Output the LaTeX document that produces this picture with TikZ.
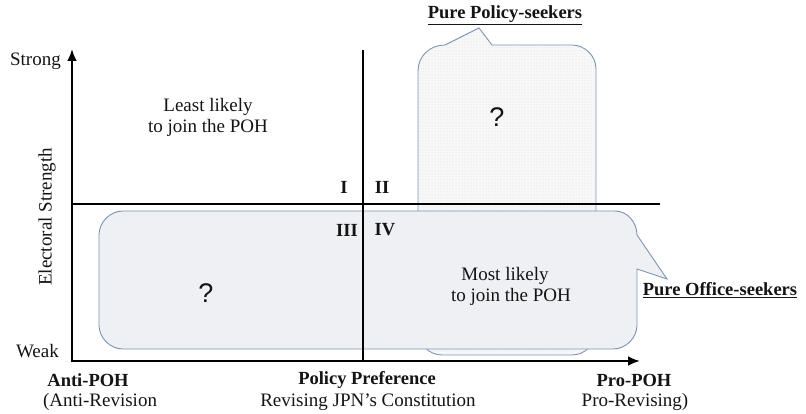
\documentclass[tikz,border=0pt]{standalone}
\usepackage{fontspec}
\setmainfont{Liberation Serif}
\setsansfont{Liberation Sans}
\usetikzlibrary{arrows.meta,patterns}
\definecolor{bubbleedge}{RGB}{125,147,184}
\definecolor{officefill}{RGB}{238,240,244}
\definecolor{policyfill}{RGB}{248,248,249}
\definecolor{ink}{RGB}{20,20,20}
\tikzset{
  txt/.style={font=\fontsize{19}{22}\selectfont, align=center, inner sep=0pt, text=ink},
  btxt/.style={txt, font=\fontsize{18.5}{22}\selectfont\bfseries},
  qmark/.style={inner sep=0pt, text=ink, font=\fontsize{27}{30}\selectfont\sffamily},
  bubble/.style={draw=bubbleedge, line width=0.9pt},
  axis/.style={line width=2.8pt, -{Latex[length=12pt,width=10pt]}},
  divider/.style={line width=1.6pt},
}
\begin{document}
\begin{tikzpicture}[x=1pt,y=-1pt]
\useasboundingbox (0,0) rectangle (806,414);
% policy-seekers bubble
\def\policypath{(445,45) -- (479,28) -- (492,45) -- (572,45)
  .. controls (585,45) and (596,56) .. (596,69) -- (596,331)
  .. controls (596,344) and (585,355) .. (572,355) -- (442,355)
  .. controls (429,355) and (418,344) .. (418,331) -- (418,71)
  .. controls (418,56) and (430,45) .. (445,45) -- cycle}
\path[bubble, fill=policyfill] \policypath;
\path[pattern=dots, pattern color=gray!32] \policypath;
% office-seekers bubble
\path[bubble, fill=officefill] (123,211) -- (615,211)
  .. controls (627,211) and (637,222) .. (637,235) -- (667,279) -- (637,269)
  -- (637,325) .. controls (637,338) and (626,349) .. (613,349) -- (123,349)
  .. controls (110,349) and (99,338) .. (99,325) -- (99,235)
  .. controls (99,222) and (110,211) .. (123,211) -- cycle;
% divider lines
\coordinate (hl) at (72,204);
\coordinate (hr) at (660,204);
\coordinate (vt) at (363,50);
\coordinate (vb) at (363,361);
\draw[divider] (hl) -- (hr);
\draw[divider] (vt) -- (vb);
% axes
\coordinate (o) at (72,361);
\coordinate (ytip) at (72,49);
\coordinate (xtip) at (640,361);
\draw[axis] ([yshift=1.4pt]o) -- (ytip);
\draw[axis] ([xshift=-1.4pt]o) -- (xtip);
% texts
\node[txt, anchor=east] (strong) at (61,61) {Strong};
\node[txt, anchor=east] (weak) at (59,351) {Weak};
\node[txt, rotate=90] (es) at (47,217) {Electoral Strength};
\node[txt] (least1) at (208,107) {Least likely};
\node[txt] (least2) at (208,128) {to join the POH};
\node[btxt] (q1) at (344,187) {I};
\node[btxt] (q2) at (382,187) {II};
\node[btxt] (q3) at (347,230) {III};
\node[btxt] (q4) at (385,230) {IV};
\node[qmark] (qa) at (206,293) {?};
\node[qmark] (qb) at (497,117) {?};
\node[txt] (most1) at (505,276) {Most likely};
\node[txt] (most2) at (511,297) {to join the POH};
\node[btxt] (office) at (720,290) {\underline{Pure Office-seekers}};
\node[btxt] (policy) at (505,15) {\underline{Pure Policy-seekers}};
\node[btxt] (anti1) at (88,380) {Anti-POH};
\node[txt] (anti2) at (100,402) {(Anti-Revision};
\node[btxt] (pref1) at (367,380) {Policy Preference};
\node[txt] (pref2) at (368,402) {Revising JPN’s Constitution};
\node[btxt] (pro1) at (634,380) {Pro-POH};
\node[txt] (pro2) at (635,402) {Pro-Revising)};
\end{tikzpicture}
\end{document}
